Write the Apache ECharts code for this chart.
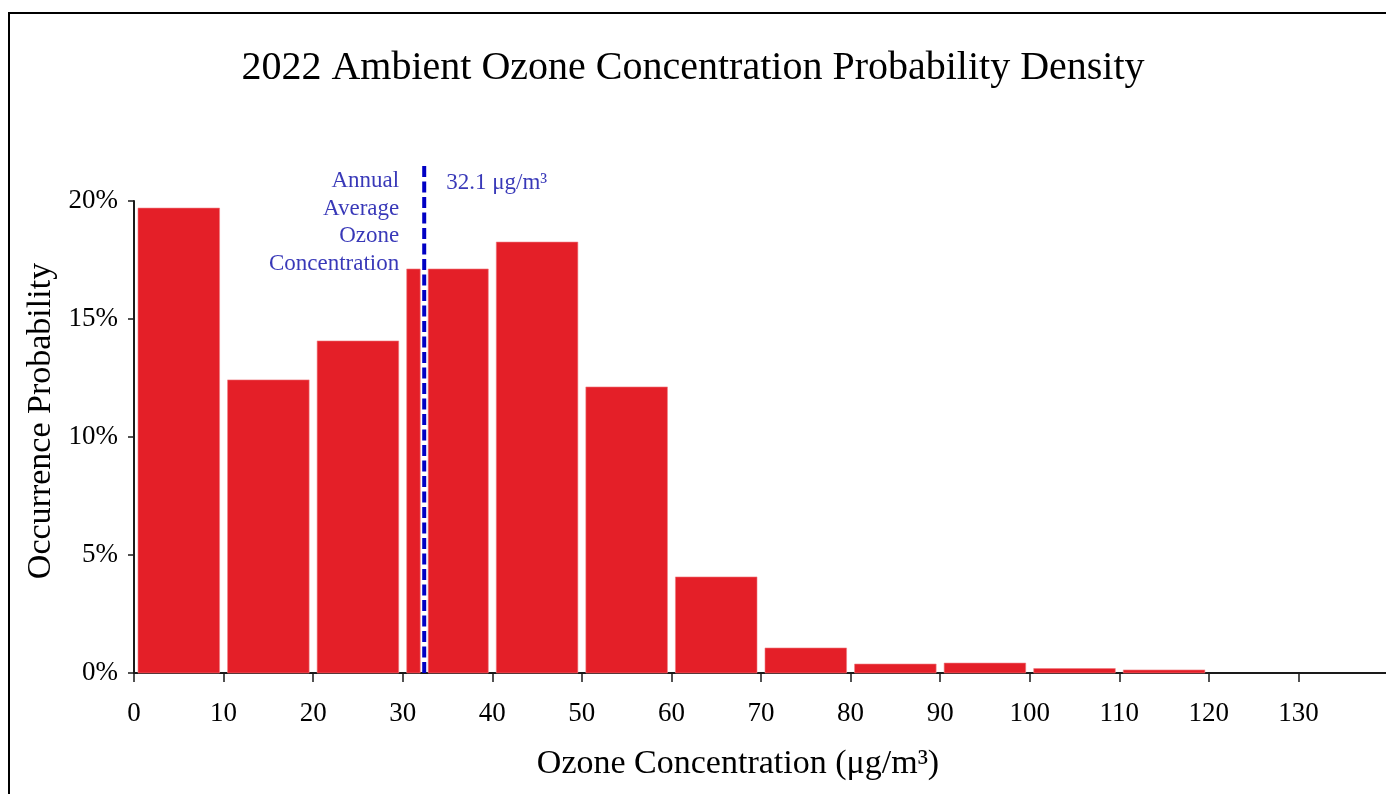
<!DOCTYPE html>
<html>
<head>
<meta charset="utf-8">
<script src="https://cdn.jsdelivr.net/npm/echarts@6/dist/echarts.min.js"></script>
<style>
  html, body { margin: 0; padding: 0; background: #fff; }
  #chart { width: 1386px; height: 794px; }
</style>
</head>
<body>
<div id="chart"></div>
<script>
// histogram bins (ug/m3) and occurrence probability (%)
var binEdges = [0, 10, 20, 30, 40, 50, 60, 70, 80, 90, 100, 110, 120];
var probability = [19.70, 12.42, 14.07, 17.12, 18.26, 12.12, 4.07, 1.06, 0.38, 0.42, 0.19, 0.13];
var avgLabel = '32.1 μg/m³';
var avgLinePos = 32.4;
var xTicks = [0, 10, 20, 30, 40, 50, 60, 70, 80, 90, 100, 110, 120, 130];

// build bars, the bin holding the average line is split in two
var bars = [];
for (var i = 0; i < probability.length; i++) {
  var a = binEdges[i], b = binEdges[i + 1];
  if (avgLinePos > a && avgLinePos < b) {
    bars.push([a, avgLinePos, probability[i]]);
    bars.push([avgLinePos, b, probability[i]]);
  } else {
    bars.push([a, b, probability[i]]);
  }
}

var serif = "'Liberation Serif', 'Times New Roman', serif";
var blue = '#0606a6';

var chart = echarts.init(document.getElementById('chart'));
chart.setOption({
  backgroundColor: '#fff',
  animation: false,
  title: {
    text: '2022 Ambient Ozone Concentration Probability Density',
    left: 'center',
    top: 43,
    textStyle: { fontFamily: serif, fontSize: 40, fontWeight: 'normal', color: '#000' }
  },
  graphic: [{
    type: 'rect',
    shape: { x: 9, y: 13, width: 1400, height: 820 },
    style: { fill: 'none', stroke: '#000', lineWidth: 2 },
    silent: true
  }],
  grid: { left: 134, top: 201, width: 1254, height: 472, outerBoundsMode: 'none', containLabel: false },
  xAxis: {
    type: 'value',
    min: 0,
    max: 140,
    interval: 10,
    name: 'Ozone Concentration (μg/m³)',
    nameLocation: 'middle',
    nameGap: 74,
    nameTextStyle: { fontFamily: serif, fontSize: 34, color: '#000', padding: [0, 46, 0, 0] },
    axisLine: { lineStyle: { color: '#1a1a1a', width: 2 } },
    axisTick: { length: 9, lineStyle: { color: '#1a1a1a', width: 1.5 } },
    axisLabel: {
      fontFamily: serif, fontSize: 27, color: '#000', margin: 27,
      showMaxLabel: false,
      formatter: function (v) { return xTicks.indexOf(v) >= 0 ? v : ''; }
    },
    splitLine: { show: false }
  },
  yAxis: {
    type: 'value',
    min: 0,
    max: 20,
    interval: 5,
    name: 'Occurrence Probability',
    nameLocation: 'middle',
    nameGap: 63,
    nameTextStyle: { fontFamily: serif, fontSize: 34, color: '#000', padding: [0, 0, 0, 32] },
    axisLine: { show: true, lineStyle: { color: '#1a1a1a', width: 2 } },
    axisTick: { show: true, length: 6, lineStyle: { color: '#1a1a1a', width: 1.5 } },
    axisLabel: { fontFamily: serif, fontSize: 27, color: '#000', margin: 16, formatter: '{value}%' },
    splitLine: { show: false }
  },
  series: [
    {
      type: 'custom',
      clip: false,
      data: bars,
      encode: { x: [0, 1], y: 2 },
      renderItem: function (params, api) {
        var p0 = api.coord([api.value(0), 0]);
        var p1 = api.coord([api.value(1), api.value(2)]);
        return {
          type: 'rect',
          shape: { x: p0[0] + 4, y: p1[1], width: p1[0] - p0[0] - 8, height: p0[1] - p1[1] },
          style: { fill: '#e41f28', stroke: '#f07a80', lineWidth: 0.6 }
        };
      }
    },
    {
      type: 'line',
      clip: false,
      symbol: 'none',
      data: [[avgLinePos, 0], [avgLinePos, 21.6]],
      lineStyle: { color: '#0000c4', width: 4, type: [11, 4.5] },
      z: 5
    },
    {
      type: 'scatter',
      clip: false,
      symbolSize: 0,
      data: [[avgLinePos, 19.09]],
      label: {
        show: true,
        position: 'left',
        distance: 25,
        align: 'right',
        formatter: 'Annual\nAverage\nOzone\nConcentration',
        fontFamily: serif,
        fontSize: 23,
        lineHeight: 27.5,
        color: blue
      }
    },
    {
      type: 'scatter',
      clip: false,
      symbolSize: 0,
      data: [[avgLinePos, 20.76]],
      label: {
        show: true,
        position: 'right',
        distance: 22,
        formatter: avgLabel,
        fontFamily: serif,
        fontSize: 23,
        color: blue
      }
    }
  ]
});
</script>
</body>
</html>
